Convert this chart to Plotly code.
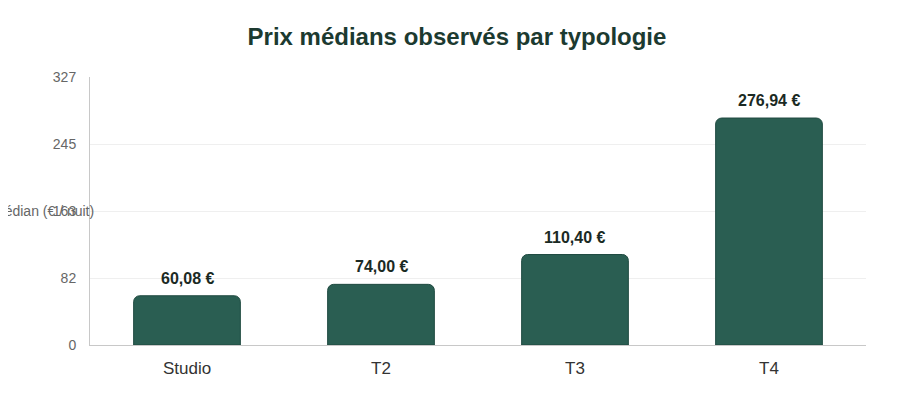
import plotly.graph_objects as go

# median nightly price per apartment type
typologies = ["Studio", "T2", "T3", "T4"]
prix_medians = [60.08, 74.00, 110.40, 276.94]
y_ticks = [0, 81.75, 163.5, 245.25, 327]
y_tick_labels = ["0", "82", "163", "245", "327"]

labels = [f"{v:,.2f} €".replace(",", " ").replace(".", ",") for v in prix_medians]

fig = go.Figure(go.Bar(
    x=typologies,
    y=prix_medians,
    marker=dict(color="#2a5e52", cornerradius=6, line=dict(color="#1f4a40", width=1)),
    hoverinfo="skip",
))

# value labels above bars (annotations so the gap can be set)
for cat, val, lab in zip(typologies, prix_medians, labels):
    fig.add_annotation(
        x=cat, y=val, text=f"<b>{lab}</b>",
        xanchor="center", yanchor="bottom", yshift=7,
        showarrow=False,
        font=dict(size=16, color="#1b2a24"),
    )

# the page body adds an 8px offset, margins compensate for it
fig.update_layout(
    width=915,
    height=409,
    paper_bgcolor="white",
    plot_bgcolor="white",
    font=dict(family="Liberation Sans, Arial", color="#555"),
    title=dict(
        text="<b>Prix médians observés par typologie</b>",
        x=0.4907,
        xanchor="center",
        y=0.929,
        yanchor="middle",
        font=dict(size=24, color="#1c3a30"),
    ),
    margin=dict(l=82, r=57, t=69, b=72, autoexpand=False),
    bargap=0.45,
    showlegend=False,
)

fig.update_xaxes(
    showline=True,
    linecolor="#c8c8c8",
    linewidth=1,
    tickfont=dict(size=17, color="#333"),
    ticks="",
    ticklabelstandoff=8,
)
fig.update_yaxes(
    range=[0, 327],
    tickvals=y_ticks,
    ticktext=y_tick_labels,
    tickfont=dict(size=14, color="#666"),
    showgrid=True,
    gridcolor="#efefef",
    showline=True,
    linecolor="#c8c8c8",
    linewidth=1,
    zeroline=False,
    ticks="",
    ticklabelstandoff=10,
)

# horizontal axis title, sitting over the tick labels as in the original
fig.add_annotation(
    text="Prix médian (€ / nuit)",
    xref="paper", yref="y",
    x=-0.078, y=163.5,
    xanchor="center", yanchor="middle",
    showarrow=False,
    font=dict(size=14, color="#666"),
)

fig.write_html("out.html")
